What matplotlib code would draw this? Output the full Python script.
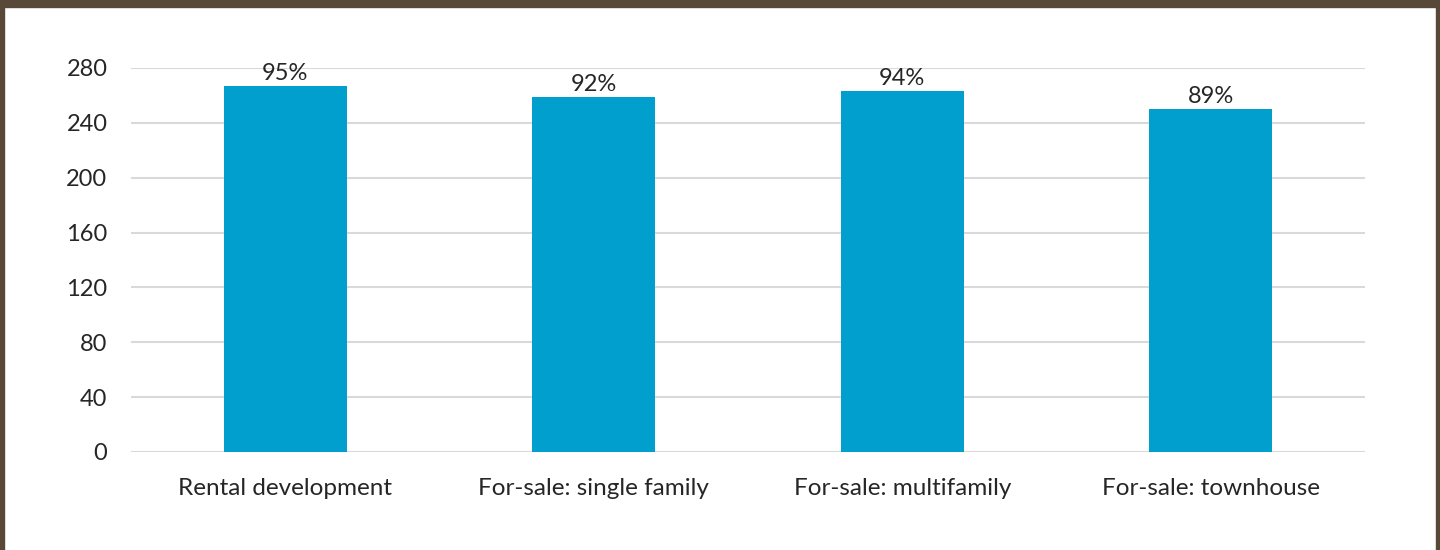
import matplotlib.pyplot as plt
from matplotlib.patches import Rectangle

categories = ["Rental development", "For-sale: single family",
              "For-sale: multifamily", "For-sale: townhouse"]
counts = [267, 259, 263, 250]
shares = ["95%", "92%", "94%", "89%"]
yticks = [0, 40, 80, 120, 160, 200, 240, 280]

plt.rcParams['font.family'] = ['Lato', 'DejaVu Sans']

fig = plt.figure(figsize=(14.4, 5.5), dpi=100)
ax = fig.add_axes([131 / 1440, 1 - 452 / 550, 1234 / 1440, 384 / 550])

x = range(len(categories))
bars = ax.bar(x, counts, width=0.4, color="#009fce", zorder=3)
for b, s in zip(bars, shares):
    ax.text(b.get_x() + b.get_width() / 2, b.get_height() + 1.5, s,
            ha="center", va="bottom", fontsize=17, color="#262626")

ax.set_xlim(-0.5, len(categories) - 0.5)
ax.set_ylim(0, 280)
ax.set_yticks(yticks)
ax.set_xticks(list(x))
ax.set_xticklabels(categories, fontsize=17.5)
ax.tick_params(axis="both", length=0, labelcolor="#262626")
ax.tick_params(axis="y", labelsize=17, pad=17)
ax.tick_params(axis="x", pad=19)
ax.grid(axis="y", color="#d9d9d9", linewidth=1.5, zorder=0)
for sp in ax.spines.values():
    sp.set_visible(False)

# brown frame around the figure (top band, side rules)
frame = "#574838"
fig.patches.append(Rectangle((0, 1 - 7 / 550), 1, 7 / 550, transform=fig.transFigure,
                             color=frame, zorder=10))
fig.patches.append(Rectangle((0, 0), 4 / 1440, 1, transform=fig.transFigure,
                             color=frame, zorder=10))
fig.patches.append(Rectangle((1 - 4 / 1440, 0), 4 / 1440, 1, transform=fig.transFigure,
                             color=frame, zorder=10))

fig.savefig("out.png", dpi=100)
